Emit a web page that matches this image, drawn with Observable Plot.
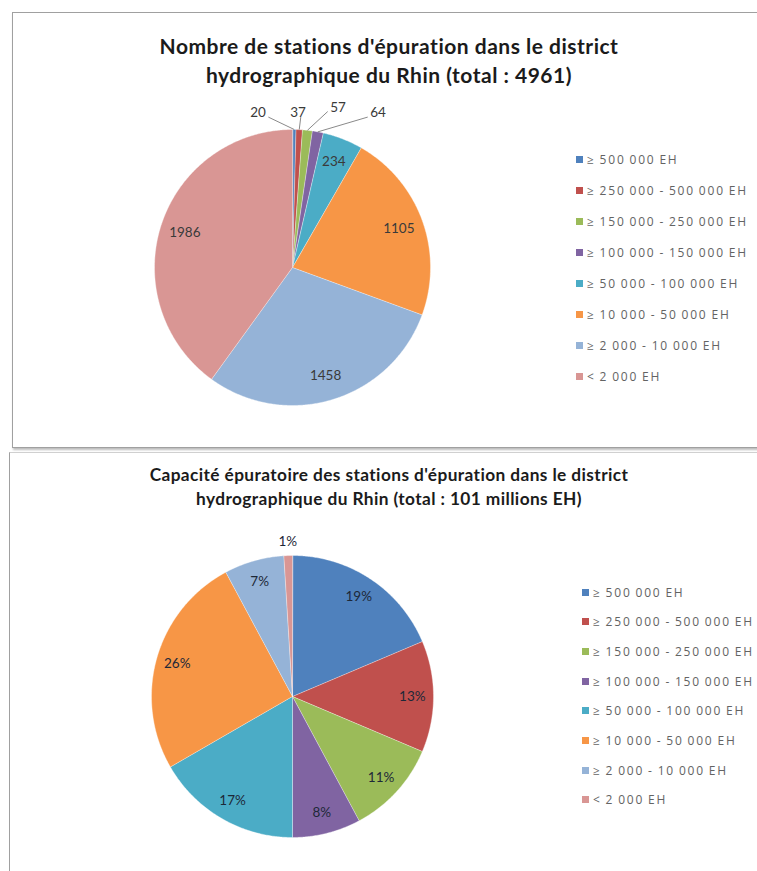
<!DOCTYPE html>
<html>
<head>
<meta charset="utf-8">
<script src="https://cdn.jsdelivr.net/npm/d3@7"></script>
<script src="https://cdn.jsdelivr.net/npm/@observablehq/plot@0.6"></script>
<style>
  body { margin: 0; background: #fff; overflow: hidden; }
  #page { position: relative; width: 757px; height: 871px; overflow: hidden; background: #fff; font-family: Lato, "Open Sans", sans-serif; }
  .frame { position: absolute; pointer-events: none; }
  .title { position: absolute; left: 0; width: 778px; text-align: center; font-weight: bold; color: #1b1b1b; white-space: nowrap; }
  .legend-item { position: absolute; height: 14px; display: flex; align-items: center; white-space: nowrap; color: #636363; font-family: "Open Sans", sans-serif; font-size: 12px; letter-spacing: 1.8px; word-spacing: -1px; }
  .sw { width: 7px; height: 7px; margin-right: 4px; flex: none; }
  .pie { position: absolute; left: 0; }
</style>
</head>
<body>
<div id="page"></div>
<script>
// ---------- data ----------
const categories = [
  "≥ 500 000 EH",
  "≥ 250 000 - 500 000 EH",
  "≥ 150 000 - 250 000 EH",
  "≥ 100 000 - 150 000 EH",
  "≥ 50 000 - 100 000 EH",
  "≥ 10 000 - 50 000 EH",
  "≥ 2 000 - 10 000 EH",
  "< 2 000 EH"
];
const stationCounts = [20, 37, 57, 64, 234, 1105, 1458, 1986];
const capacityShares = [19, 13, 11, 8, 17, 26, 7, 1];
const palette = ["#4F81BD", "#C0504D", "#9BBB59", "#8064A2", "#4BACC6", "#F79646", "#95B3D7", "#D99694"];
const titleCounts = ["Nombre de stations d'épuration dans le district", "hydrographique du Rhin (total : 4961)"];
const titleCapacity = ["Capacité épuratoire des stations d'épuration dans le district", "hydrographique du Rhin (total : 101 millions EH)"];

// ---------- helpers ----------
const page = document.getElementById("page");

function slicesOf(values) {
  const arcs = d3.pie().sort(null).startAngle(0).endAngle(2 * Math.PI)(values);
  return arcs.map((a, i) => ({
    cat: categories[i], value: values[i], start: a.startAngle, end: a.endAngle,
    mid: (a.startAngle + a.endAngle) / 2, frac: (a.endAngle - a.startAngle) / (2 * Math.PI)
  }));
}

function polygonPoints(slices) {
  const pts = [];
  for (const s of slices) {
    pts.push({cat: s.cat, x: 0, y: 0});
    const n = Math.max(2, Math.ceil((s.end - s.start) / (Math.PI / 360)));
    for (let k = 0; k <= n; k++) {
      const a = s.start + (s.end - s.start) * k / n;
      pts.push({cat: s.cat, x: Math.sin(a), y: Math.cos(a)});
    }
  }
  return pts;
}

function drawPie({values, fmt, top, height, cx, cy, R, insideR, smallFrac, outsideMode, labelColor, labelSize}) {
  const slices = slicesOf(values);
  const pts = polygonPoints(slices);
  const inside = slices.filter(s => s.frac >= smallFrac).map(s => ({
    x: insideR * Math.sin(s.mid), y: insideR * Math.cos(s.mid), text: fmt(s.value)
  }));
  const small = slices.filter(s => s.frac < smallFrac);
  let outside = [], leaders = [];
  if (outsideMode === "spread") {
    small.forEach((s, i) => {
      const lx = -0.25 + i * 0.29, ly = 1.12 + (i === 2 ? 0.04 : 0);
      const sx = Math.sin(s.mid), sy = Math.cos(s.mid);
      outside.push({x: lx, y: ly, text: fmt(s.value)});
      const ex = lx < sx - 0.03 ? lx + 0.075 : (lx > sx + 0.03 ? lx - 0.075 : lx + 0.02);
      leaders.push({x1: ex, y1: ly - 0.03, x2: sx, y2: sy});
    });
  } else {
    small.forEach(s => outside.push({x: 1.1 * Math.sin(s.mid), y: 1.1 * Math.cos(s.mid), text: fmt(s.value)}));
  }
  const svg = Plot.plot({
    width: 757, height,
    margin: 0,
    x: {domain: [-1, 1], range: [cx - R, cx + R], axis: null},
    y: {domain: [-1, 1], range: [cy + R, cy - R], axis: null},
    color: {domain: categories, range: palette},
    style: {background: "transparent", overflow: "visible"},
    marks: [
      Plot.line(pts, {x: "x", y: "y", z: "cat", fill: "cat", stroke: "#ffffff", strokeWidth: 0.6, strokeOpacity: 0.6, curve: "linear-closed"}),
      Plot.link(leaders, {x1: "x1", y1: "y1", x2: "x2", y2: "y2", stroke: "#8a8a8a", strokeWidth: 1}),
      Plot.text(inside, {x: "x", y: "y", text: "text", fill: labelColor, fontSize: labelSize, fontFamily: "Lato, sans-serif"}),
      Plot.text(outside, {x: "x", y: "y", text: "text", fill: labelColor, fontSize: labelSize, fontFamily: "Lato, sans-serif"})
    ]
  });
  svg.classList.add("pie");
  svg.style.top = top + "px";
  page.appendChild(svg);
}

function addTitle(lines, centers, size, spacing) {
  lines.forEach((t, i) => {
    const d = document.createElement("div");
    d.className = "title";
    d.textContent = t;
    d.style.fontSize = size + "px";
    d.style.lineHeight = size + "px";
    d.style.letterSpacing = spacing + "px";
    d.style.top = (centers[i] - size / 2) + "px";
    page.appendChild(d);
  });
}

function addLegend(x, y0, step) {
  categories.forEach((c, i) => {
    const it = document.createElement("div");
    it.className = "legend-item";
    it.style.left = x + "px";
    it.style.top = (y0 + i * step - 7) + "px";
    const sw = document.createElement("span");
    sw.className = "sw";
    sw.style.background = palette[i];
    it.appendChild(sw);
    it.appendChild(document.createTextNode(c));
    page.appendChild(it);
  });
}

function addFrame(css) {
  const f = document.createElement("div");
  f.className = "frame";
  Object.assign(f.style, css);
  page.appendChild(f);
}

// ---------- top chart ----------
drawPie({values: stationCounts, fmt: v => String(v), top: 0, height: 450,
  cx: 292, cy: 267, R: 138, insideR: 0.82, smallFrac: 0.03, outsideMode: "spread",
  labelColor: "#3a3a3a", labelSize: 13.5});
addTitle(titleCounts, [45, 74], 21, 0.5);
addLegend(576, 159, 31);
addFrame({left: "12px", top: "12px", width: "780px", height: "434px", border: "1px solid #a0a0a0", boxShadow: "1px 2px 2px #bdbdbd"});

// ---------- bottom chart ----------
drawPie({values: capacityShares, fmt: v => v + "%", top: 450, height: 421,
  cx: 292, cy: 246, R: 141, insideR: 0.85, smallFrac: 0.02, outsideMode: "radial",
  labelColor: "#1d2838", labelSize: 13.5});
addTitle(titleCapacity, [475, 499], 17.3, 0.4);
addLegend(582, 592, 29.7);
addFrame({left: "9px", top: "452px", width: "780px", height: "440px", borderLeft: "1px solid #a0a0a0", borderTop: "1px solid #d0d0d0"});
</script>
</body>
</html>
